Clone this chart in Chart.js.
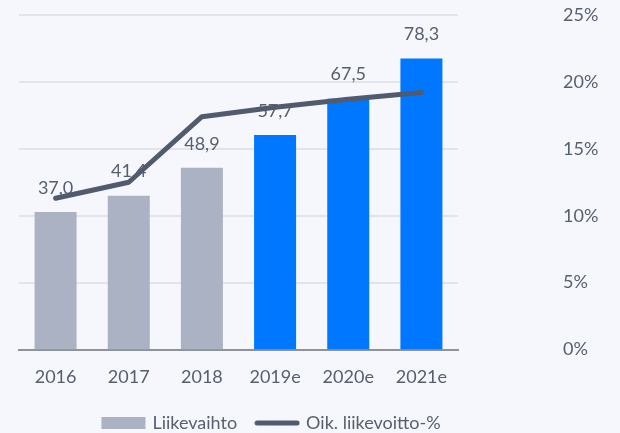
<!DOCTYPE html>
<html>
<head>
<meta charset="utf-8">
<script src="https://cdn.jsdelivr.net/npm/chart.js@4"></script>
<style>
  html, body { margin: 0; padding: 0; background: #f5f7fc; }
  #wrap { width: 620px; height: 433px; position: relative; }
</style>
</head>
<body>
<div id="wrap"><canvas id="c" width="620" height="433"></canvas></div>
<script>
const categories = ['2016', '2017', '2018', '2019e', '2020e', '2021e'];
const revenue = [37.0, 41.4, 48.9, 57.7, 67.5, 78.3];
const marginPct = [11.3, 12.5, 17.4, 18.1, 18.7, 19.2];
const revenueLabels = ['37,0', '41,4', '48,9', '57,7', '67,5', '78,3'];
const barColors = ['#abb2c3', '#abb2c3', '#abb2c3', '#0077ff', '#0077ff', '#0077ff'];
const seriesNames = ['Liikevaihto', 'Oik. liikevoitto-%'];

const TEXT = '#575f6e';
const FONT = 'Lato, "Open Sans", sans-serif';

function makeIcon(kind) {
  const cv = document.createElement('canvas');
  cv.width = 46; cv.height = 14;
  const x = cv.getContext('2d');
  if (kind === 'bar') {
    x.fillStyle = '#abb2c3';
    x.fillRect(1, 1, 44, 12);
  } else {
    x.strokeStyle = '#515b6d';
    x.lineWidth = 5;
    x.lineCap = 'round';
    x.beginPath(); x.moveTo(3, 7); x.lineTo(43, 7); x.stroke();
  }
  return cv;
}
const icons = [makeIcon('bar'), makeIcon('line')];

const labelPlugin = {
  id: 'barLabels',
  afterDatasetDraw(chart, args) {
    if (args.index !== 0) return;
    const ctx = chart.ctx;
    ctx.save();
    ctx.font = '18px ' + FONT;
    ctx.fillStyle = TEXT;
    ctx.textAlign = 'center';
    ctx.textBaseline = 'middle';
    args.meta.data.forEach((el, i) => {
      ctx.fillText(revenueLabels[i], el.x, el.y - 24);
    });
    ctx.restore();
  }
};

const legendShift = {
  id: 'legendShift',
  afterLayout(chart) {
    const lg = chart.legend;
    if (!lg) return;
    const w = lg.right - lg.left;
    const center = 272;
    lg.left = center - w / 2;
    lg.right = center + w / 2;
  }
};

new Chart(document.getElementById('c'), {
  data: {
    labels: categories,
    datasets: [
      {
        type: 'bar',
        label: seriesNames[0],
        data: revenue,
        backgroundColor: barColors,
        yAxisID: 'yL',
        order: 1,
        categoryPercentage: 1,
        barPercentage: 0.574
      },
      {
        type: 'line',
        label: seriesNames[1],
        data: marginPct,
        borderColor: '#515b6d',
        backgroundColor: '#515b6d',
        borderWidth: 5,
        borderCapStyle: 'round',
        borderJoinStyle: 'round',
        pointRadius: 0,
        tension: 0,
        yAxisID: 'yR',
        order: 0
      }
    ]
  },
  options: {
    responsive: false,
    animation: false,
    layout: { padding: { left: 19, right: 0, top: 15, bottom: 0 } },
    plugins: {
      tooltip: { enabled: false },
      legend: {
        position: 'bottom',
        maxHeight: 39,
        labels: {
          usePointStyle: true,
          pointStyleWidth: 40,
          boxHeight: 14,
          padding: 20,
          color: TEXT,
          font: { family: FONT, size: 18 },
          generateLabels(chart) {
            return chart.data.datasets.map((d, i) => ({
              text: d.label,
              pointStyle: icons[i],
              fillStyle: 'transparent',
              strokeStyle: 'transparent',
              lineWidth: 0,
              fontColor: TEXT,
              datasetIndex: i,
              hidden: false
            }));
          }
        }
      }
    },
    scales: {
      x: {
        grid: { display: false, drawTicks: false },
        border: { display: true, color: '#8d929b', width: 2 },
        ticks: { color: TEXT, font: { family: FONT, size: 18 }, padding: 17 },
        afterFit(scale) { scale.height = 44.5; }
      },
      yL: {
        display: false,
        position: 'left',
        min: 0,
        max: 90
      },
      yR: {
        position: 'right',
        min: 0,
        max: 25,
        grid: { color: '#e1e4ea', lineWidth: 2, drawTicks: false },
        border: { display: false },
        ticks: {
          stepSize: 5,
          color: TEXT,
          font: { family: FONT, size: 18 },
          padding: 105,
          callback: v => v + '%'
        },
        afterFit(scale) {
          scale.width = 162;
          scale.paddingTop = 0;
          scale.paddingBottom = 0;
        }
      }
    }
  },
  plugins: [labelPlugin, legendShift]
});
</script>
</body>
</html>
